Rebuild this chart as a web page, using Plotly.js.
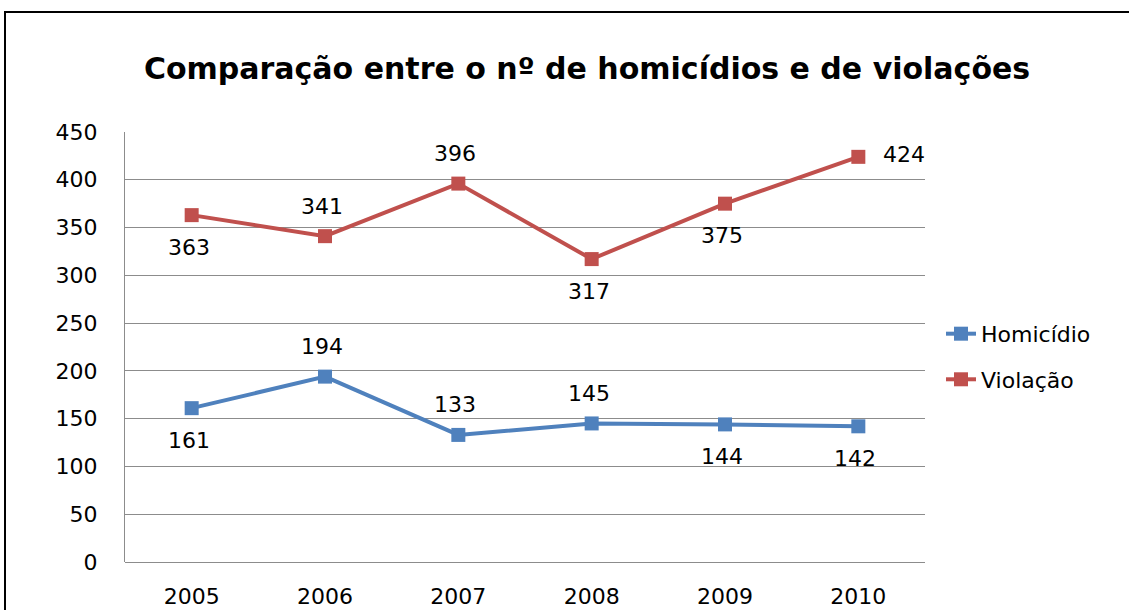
<!DOCTYPE html>
<html><head><meta charset="utf-8">
<script src="https://cdn.plot.ly/plotly-3.0.1.min.js"></script>
<style>
html,body{margin:0;padding:0;width:1129px;height:610px;overflow:hidden;background:#fff;}
#frame{position:absolute;left:4px;top:11px;width:1200px;height:700px;border:2.5px solid #000;box-sizing:border-box;pointer-events:none;z-index:5;}
#chart{position:absolute;left:0;top:0;width:1129px;height:610px;}
</style></head>
<body>
<div id="chart"></div>
<div id="frame"></div>
<script>
const years = ['2005','2006','2007','2008','2009','2010'];
const homicidio = [161,194,133,145,144,142];
const violacao = [363,341,396,317,375,424];
const homLabelPos = ['below','above','above','above','below','below'];
const violLabelPos = ['below','above','above','below','below','right'];
const yTicks = [0,50,100,150,200,250,300,350,400,450];

const blue = '#4F81BD', red = '#C0504D';
const fontFam = 'DejaVu Sans';
const xIdx = years.map((_,i)=>i);

function mkTrace(name, vals, color, grp){
  return {x: xIdx, y: vals, name: name, legendgroup: grp, type:'scatter', mode:'lines+markers',
    line:{color:color, width:4}, marker:{symbol:'square', size:14, color:color}, cliponaxis:false};
}
function mkAnn(vals, pos){
  return vals.map((v,i)=>{
    const p = pos[i];
    return {x: xIdx[i], y: v, xref:'x', yref:'y', text: String(v), showarrow:false,
      font:{family:fontFam, size:22, color:'#000'},
      yshift: p==='above' ? 30 : (p==='below' ? -32 : 2),
      xshift: p==='right' ? 46 : -3};
  });
}

const data = [mkTrace('Homicídio', homicidio, blue, 'h'), mkTrace('Violação', violacao, red, 'v')];
const layout = {
  width:1129, height:610,
  margin:{l:125, r:204, t:132, b:48},
  paper_bgcolor:'#fff', plot_bgcolor:'#fff',
  title:{text:'<b>Comparação entre o nº de homicídios e de violações</b>', x:0.52, xanchor:'center', y:0.888, yanchor:'middle',
    font:{family:fontFam, size:30, color:'#000'}},
  xaxis:{range:[-0.5,5.5], tickvals:xIdx, ticktext:years, showgrid:false, zeroline:false, showline:false,
    ticks:'outside', ticklen:15, tickcolor:'rgba(0,0,0,0)', tickfont:{family:fontFam, size:22, color:'#000'}},
  yaxis:{range:[0,450], tickvals:yTicks, showgrid:true, gridcolor:'#8c8c8c', gridwidth:1,
    showline:true, linecolor:'#8c8c8c', linewidth:1, zeroline:true, zerolinecolor:'#8c8c8c', zerolinewidth:1,
    ticks:'outside', ticklen:22, tickcolor:'rgba(0,0,0,0)', tickfont:{family:fontFam, size:22, color:'#000'}},
  legend:{x:1.02, xanchor:'left', y:0.477, yanchor:'middle', font:{family:fontFam, size:22, color:'#000'},
    tracegroupgap:14, bgcolor:'rgba(0,0,0,0)'},
  annotations: mkAnn(homicidio, homLabelPos).concat(mkAnn(violacao, violLabelPos)),
  showlegend:true
};
Plotly.newPlot('chart', data, layout, {displayModeBar:false, staticPlot:true});
</script>
</body></html>
